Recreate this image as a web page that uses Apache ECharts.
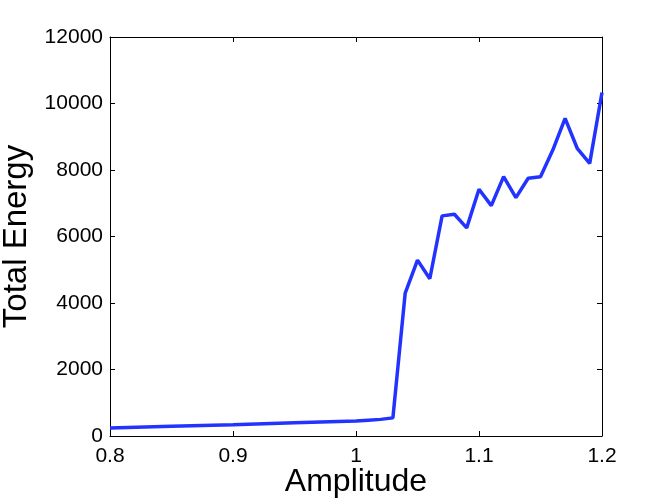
<!DOCTYPE html>
<html>
<head>
<meta charset="utf-8">
<script src="https://cdn.jsdelivr.net/npm/echarts@6/dist/echarts.min.js"></script>
<style>
  html, body { margin: 0; padding: 0; background: #fff; }
  #chart { width: 664px; height: 500px; }
</style>
</head>
<body>
<div id="chart"></div>
<script>
// amplitude values and total energy
var amplitude = [0.80, 0.85, 0.90, 0.95, 1.00, 1.01, 1.02, 1.03, 1.04, 1.05, 1.06, 1.07, 1.08, 1.09,
  1.10, 1.11, 1.12, 1.13, 1.14, 1.15, 1.16, 1.17, 1.18, 1.19, 1.20];
var totalEnergy = [240, 290, 340, 395, 450, 475, 500, 545, 4300, 5290, 4730, 6620, 6670, 6260,
  7420, 6930, 7800, 7170, 7750, 7800, 8600, 9550, 8640, 8200, 10330];
var xTicks = [0.8, 1.2, 0.1];     // min, max, step
var yTicks = [0, 12000, 2000];

var font = 'Liberation Sans, Helvetica, Arial, sans-serif';

var chart = echarts.init(document.getElementById('chart'));

var points = amplitude.map(function (a, i) { return [a, totalEnergy[i]]; });

function boxAxis(ticks, extra) {
  var ax = {
    type: 'value',
    min: ticks[0],
    max: ticks[1],
    interval: ticks[2],
    axisLine: { show: true, onZero: false, lineStyle: { color: '#000', width: 1 } },
    axisTick: { show: true, inside: true, length: 5, lineStyle: { color: '#000' } },
    splitLine: { show: false },
    axisLabel: { show: false }
  };
  return Object.assign(ax, extra);
}

var option = {
  animation: false,
  backgroundColor: '#fff',
  grid: { left: 110, right: 62, top: 37, bottom: 64, containLabel: false, outerBoundsMode: 'none' },
  xAxis: [
    boxAxis(xTicks, {
      position: 'bottom',
      name: 'Amplitude',
      nameLocation: 'middle',
      nameGap: 30,
      nameMoveOverlap: false,
      nameTextStyle: { fontFamily: font, fontSize: 32, color: '#000' },
      axisLabel: { show: true, margin: 10, fontFamily: font, fontSize: 21, color: '#000',
        formatter: function (v) { return String(+v.toFixed(2)); } }
    }),
    boxAxis(xTicks, { position: 'top' })
  ],
  yAxis: [
    boxAxis(yTicks, {
      position: 'left',
      name: 'Total Energy',
      nameLocation: 'middle',
      nameGap: 72,
      nameTextStyle: { fontFamily: font, fontSize: 33, color: '#000' },
      axisLabel: { show: true, margin: 7, fontFamily: font, fontSize: 21, color: '#000',
        formatter: function (v) { return String(v); } }
    }),
    boxAxis(yTicks, { position: 'right' })
  ],
  series: [
    {
      type: 'line',
      data: points,
      showSymbol: false,
      lineStyle: { color: '#2233ff', width: 3.5 },
      itemStyle: { color: '#2233ff' }
    }
  ]
};

chart.setOption(option);
</script>
</body>
</html>
